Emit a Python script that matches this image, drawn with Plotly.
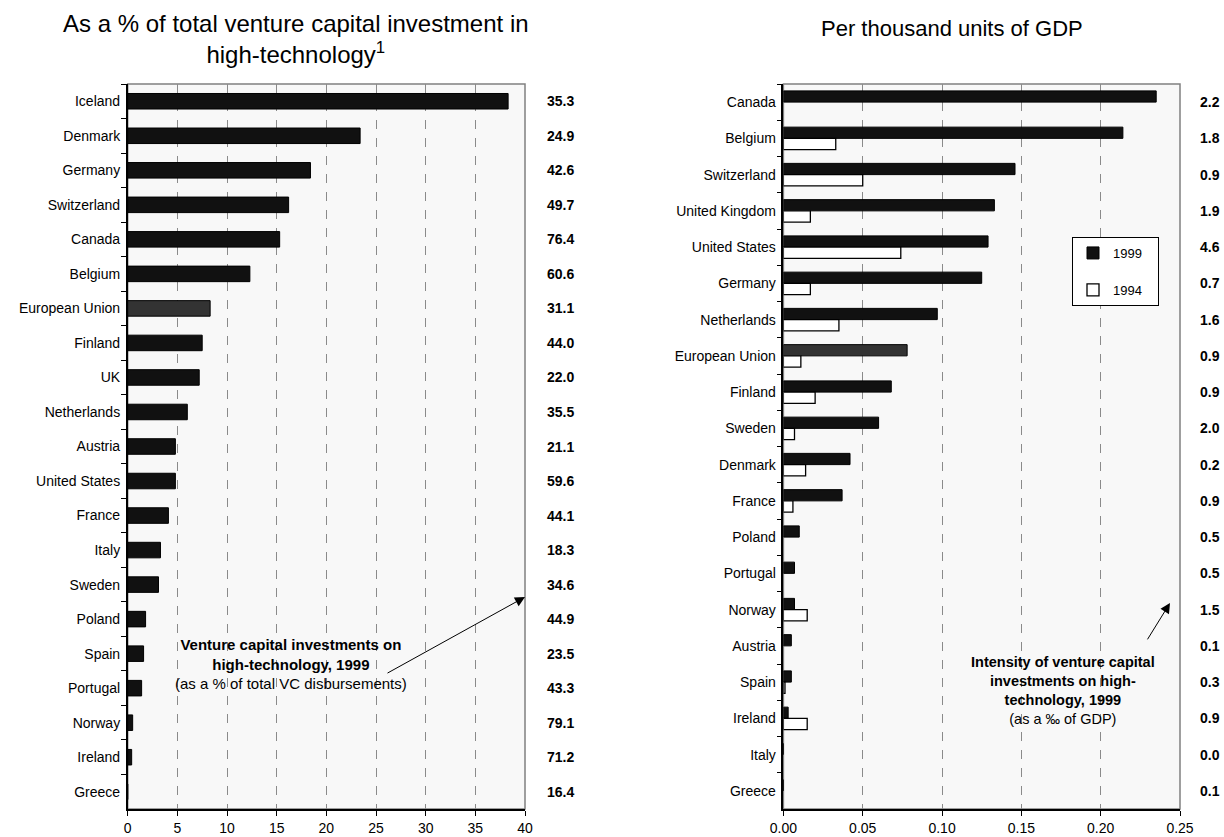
import plotly.graph_objects as go

# ---------------- data ----------------
countries_vc = ["Iceland", "Denmark", "Germany", "Switzerland", "Canada", "Belgium",
                "European Union", "Finland", "UK", "Netherlands", "Austria",
                "United States", "France", "Italy", "Sweden", "Poland", "Spain",
                "Portugal", "Norway", "Ireland", "Greece"]
vc_share_1999 = [38.3, 23.4, 18.4, 16.2, 15.3, 12.3, 8.3, 7.5, 7.2, 6.0, 4.8,
                 4.8, 4.1, 3.3, 3.1, 1.8, 1.6, 1.4, 0.5, 0.4, 0.0]
vc_side_values = [35.3, 24.9, 42.6, 49.7, 76.4, 60.6, 31.1, 44.0, 22.0, 35.5, 21.1,
                  59.6, 44.1, 18.3, 34.6, 44.9, 23.5, 43.3, 79.1, 71.2, 16.4]

countries_gdp = ["Canada", "Belgium", "Switzerland", "United Kingdom", "United States",
                 "Germany", "Netherlands", "European Union", "Finland", "Sweden",
                 "Denmark", "France", "Poland", "Portugal", "Norway", "Austria",
                 "Spain", "Ireland", "Italy", "Greece"]
gdp_1999 = [0.235, 0.214, 0.146, 0.133, 0.129, 0.125, 0.097, 0.078, 0.068, 0.060,
            0.042, 0.037, 0.010, 0.007, 0.007, 0.005, 0.005, 0.003, 0.0, 0.0]
gdp_1994 = [None, 0.033, 0.050, 0.017, 0.074, 0.017, 0.035, 0.011, 0.020, 0.007,
            0.014, 0.006, None, None, 0.015, None, 0.001, 0.015, None, None]
gdp_side_values = [2.2, 1.8, 0.9, 1.9, 4.6, 0.7, 1.6, 0.9, 0.9, 2.0,
                   0.2, 0.9, 0.5, 0.5, 1.5, 0.1, 0.3, 0.9, 0.0, 0.1]

left_ticks = [0, 5, 10, 15, 20, 25, 30, 35, 40]
right_ticks = [0.00, 0.05, 0.10, 0.15, 0.20, 0.25]

# ---------------- styling ----------------
FONT = "Liberation Sans, Arial, sans-serif"
W, H = 1224, 837


def px(x):
    return x / W


def py(y):
    return 1 - y / H


BAR = "#111111"
EU = "#333333"

colors_vc = [EU if c == "European Union" else BAR for c in countries_vc]
colors_gdp = [EU if c == "European Union" else BAR for c in countries_gdp]

fig = go.Figure()

fig.add_trace(go.Bar(
    y=countries_vc, x=vc_share_1999, orientation="h",
    marker=dict(color=colors_vc, line=dict(color="black", width=1)),
    width=0.45, offset=-0.225, xaxis="x", yaxis="y", showlegend=False,
))
fig.add_trace(go.Bar(
    y=countries_gdp, x=gdp_1999, orientation="h", name="1999\u00a0\u00a0\u00a0",
    marker=dict(color=colors_gdp, line=dict(color="black", width=1)),
    width=0.31, offset=-0.31, xaxis="x2", yaxis="y2", legendgroup="a",
))
fig.add_trace(go.Bar(
    y=countries_gdp, x=gdp_1994, orientation="h", name="1994\u00a0\u00a0\u00a0",
    marker=dict(color="white", line=dict(color="black", width=1.3)),
    width=0.31, offset=0.0, xaxis="x2", yaxis="y2", legendgroup="b",
))

ydom = [py(809), py(84)]
xdom1 = [px(127.7), px(525)]
xdom2 = [px(783.4), px(1180)]

common_x = dict(ticks="outside", ticklen=5, tickcolor="black", showline=True,
                linecolor="black", linewidth=1.5, showgrid=True, gridcolor="#8a8a8a",
                griddash="dash", gridwidth=1, zeroline=False, automargin=False,
                tickfont=dict(size=14, color="black", family=FONT))
common_y = dict(type="category", autorange="reversed", tickson="boundaries",
                ticks="outside", ticklen=5, tickcolor="black", showline=True,
                linecolor="black", linewidth=1.5, showgrid=False, zeroline=False,
                ticklabelstandoff=3, automargin=False,
                tickfont=dict(size=14, color="black", family=FONT))

annotations = []
# side value columns
for c, v in zip(countries_vc, vc_side_values):
    annotations.append(dict(xref="paper", yref="y", x=px(560), y=c, text=f"<b>{v:.1f}</b>",
                            showarrow=False, xanchor="center",
                            font=dict(size=14, color="black", family=FONT)))
for c, v in zip(countries_gdp, gdp_side_values):
    annotations.append(dict(xref="paper", yref="y2", x=px(1210), y=c, text=f"<b>{v:.1f}</b>",
                            showarrow=False, xanchor="center",
                            font=dict(size=14, color="black", family=FONT)))

# titles
annotations.append(dict(xref="paper", yref="paper", x=px(296), y=py(39),
                        text="As a % of total venture capital investment in<br>high-technology<sup>1</sup>",
                        showarrow=False, xanchor="center", yanchor="middle",
                        font=dict(size=24, color="black", family=FONT)))
annotations.append(dict(xref="paper", yref="paper", x=px(952), y=py(29),
                        text="Per thousand units of GDP",
                        showarrow=False, xanchor="center", yanchor="middle",
                        font=dict(size=22, color="black", family=FONT)))

# inset notes
annotations.append(dict(xref="paper", yref="paper", x=px(291), y=py(664),
                        text="<b>Venture capital investments on<br>high-technology, 1999</b><br>(as a % of total VC disbursements)",
                        showarrow=False, xanchor="center", yanchor="middle",
                        font=dict(size=15, color="black", family=FONT)))
annotations.append(dict(xref="paper", yref="paper", x=px(1063), y=py(690),
                        text="<b>Intensity of venture capital<br>investments on high-<br>technology, 1999</b><br>(as a \u2030 of GDP)",
                        showarrow=False, xanchor="center", yanchor="middle",
                        font=dict(size=14.5, color="black", family=FONT)))

# arrows
annotations.append(dict(xref="paper", yref="paper", x=px(525), y=py(597),
                        ax=-141, ay=78, text=" ", showarrow=True, arrowhead=2,
                        arrowsize=2, arrowwidth=1, arrowcolor="black"))
annotations.append(dict(xref="paper", yref="paper", x=px(1170), y=py(603),
                        ax=-26, ay=42, text=" ", showarrow=True, arrowhead=2,
                        arrowsize=2, arrowwidth=1, arrowcolor="black"))

shapes = [
    dict(type="rect", xref="x domain", yref="y domain", x0=0, x1=1, y0=0, y1=1,
         line=dict(color="#808080", width=1.5), layer="below"),
    dict(type="rect", xref="x2 domain", yref="y2 domain", x0=0, x1=1, y0=0, y1=1,
         line=dict(color="#808080", width=1.5), layer="below"),
]

fig.update_layout(
    width=W, height=H,
    margin=dict(l=0, r=0, t=0, b=0, autoexpand=False),
    paper_bgcolor="white",
    plot_bgcolor="#f8f8f8",
    barmode="overlay",
    font=dict(family=FONT, size=14, color="black"),
    xaxis=dict(domain=xdom1, anchor="y", range=[0, 40], tickvals=left_ticks,
               ticktext=[str(t) for t in left_ticks], **common_x),
    yaxis=dict(domain=ydom, anchor="x", categoryorder="array",
               categoryarray=countries_vc, **common_y),
    xaxis2=dict(domain=xdom2, anchor="y2", range=[0, 0.25], tickvals=right_ticks,
                ticktext=[f"{t:.2f}" for t in right_ticks], **common_x),
    yaxis2=dict(domain=ydom, anchor="x2", categoryorder="array",
                categoryarray=countries_gdp, **common_y),
    legend=dict(x=px(1072), y=py(237), xanchor="left", yanchor="top",
                bgcolor="white", bordercolor="black", borderwidth=1,
                font=dict(size=13, family=FONT, color="black"),
                traceorder="grouped", tracegroupgap=17, itemwidth=30),
    annotations=annotations,
    shapes=shapes,
)

fig.write_html(
    "out.html",
    config={"displayModeBar": False},
    post_script=(
        "document.documentElement.style.margin='0';"
        "document.body.style.margin='0';"
        "document.documentElement.style.overflow='hidden';"
        "document.body.style.overflow='hidden';"
    ),
)
